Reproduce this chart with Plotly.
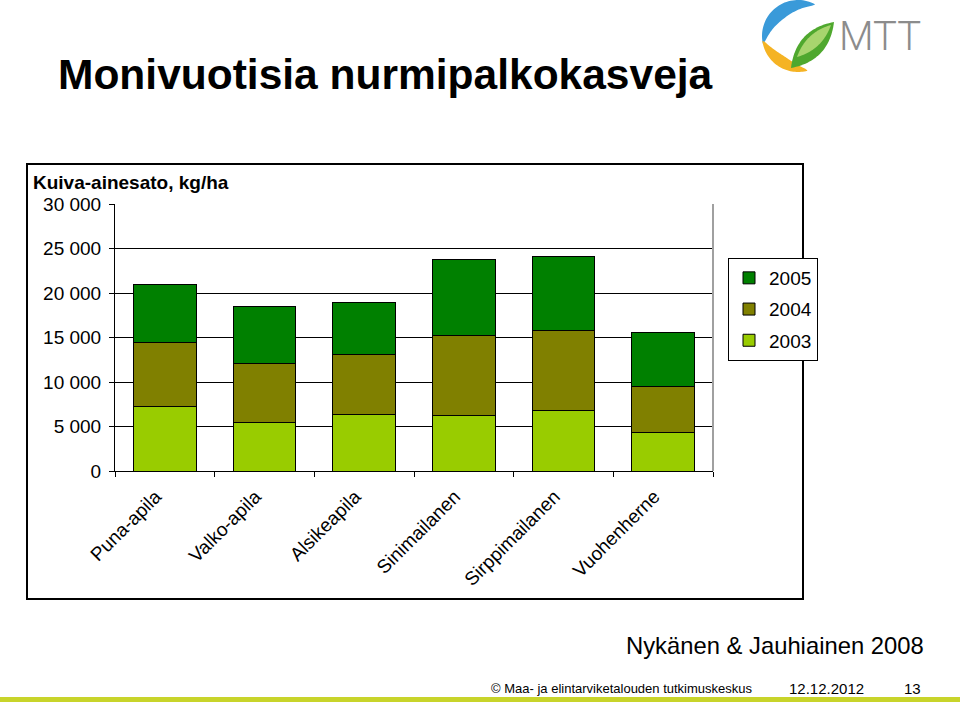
import numpy as np
import plotly.graph_objects as go

W, H = 960, 702

categories = ["Puna-apila", "Valko-apila", "Alsikeapila", "Sinimailanen", "Sirppimailanen", "Vuohenherne"]
y2003 = [7300, 5500, 6350, 6200, 6850, 4350]
y2004 = [7100, 6550, 6700, 9050, 8900, 5200]
y2005 = [6500, 6400, 5900, 8550, 8350, 6050]
series_names = ["2003", "2004", "2005"]
series_colors = ["#99CC00", "#808000", "#008000"]
legend_ranks = [3, 2, 1]
ytick_vals = [0, 5000, 10000, 15000, 20000, 25000, 30000]
ytick_text = ["0", "5 000", "10 000", "15 000", "20 000", "25 000", "30 000"]

FONT = "Arial, Liberation Sans, sans-serif"


def px(x):
    return x / W


def py(y):
    return 1 - y / H


fig = go.Figure()
for name, vals, col, rk in zip(series_names, [y2003, y2004, y2005], series_colors, legend_ranks):
    fig.add_trace(go.Bar(
        x=categories, y=vals, name=name, legendgroup=name, legendrank=rk,
        marker=dict(color=col, line=dict(color="black", width=1)),
    ))

# plot area
x0p, x1p = 115, 713
y0p, y1p = 204, 471

fig.update_layout(
    width=W, height=H,
    margin=dict(l=0, r=0, t=0, b=0, pad=0, autoexpand=False),
    paper_bgcolor="white", plot_bgcolor="white",
    barmode="stack", bargap=0.37,
    font=dict(family=FONT, color="black"),
    showlegend=True,
    legend=dict(
        x=px(728), y=py(258), xanchor="left", yanchor="top",
        bordercolor="black", borderwidth=1, bgcolor="white",
        font=dict(size=19, family=FONT), traceorder="grouped",
        tracegroupgap=3.5, itemwidth=30,
    ),
    xaxis=dict(
        domain=[px(x0p), px(x1p)], showline=True, linecolor="black", linewidth=1,
        ticks="outside", ticklen=5, tickcolor="black", tickson="boundaries",
        tickangle=-45, tickfont=dict(size=19, family=FONT), showgrid=False,
        ticklabelstandoff=6, ticklabelshift=-9, automargin=False,
    ),
    yaxis=dict(
        domain=[py(y1p), py(y0p)], range=[0, 30000], tickvals=ytick_vals, ticktext=ytick_text,
        showline=True, linecolor="black", linewidth=1, ticks="outside", ticklen=5,
        tickcolor="black", showgrid=True, gridcolor="black", gridwidth=1,
        tickfont=dict(size=19, family=FONT), zeroline=False, ticklabelstandoff=4,
        automargin=False,
    ),
)

shapes = []
# outer chart border
shapes.append(dict(type="rect", xref="paper", yref="paper", x0=px(27), x1=px(803), y0=py(599), y1=py(164),
                   line=dict(color="black", width=2), fillcolor="rgba(0,0,0,0)", layer="below"))
# right plot border (gray)
shapes.append(dict(type="line", xref="paper", yref="paper", x0=px(x1p), x1=px(x1p), y0=py(y1p), y1=py(y0p),
                   line=dict(color="#a0a0a0", width=2)))
# footer green strip
shapes.append(dict(type="rect", xref="paper", yref="paper", x0=0, x1=1, y0=0, y1=py(697),
                   line=dict(width=0), fillcolor="#C8D42A"))


# logo
def poly_path(pts):
    return "M " + " L ".join(f"{px(x):.5f},{py(y):.5f}" for x, y in pts) + " Z"


cx, cy = 798, 36


def arc_band(a0, a1, r_out, r_in, n=40):
    th = np.radians(np.linspace(a0, a1, n))
    t = np.linspace(0, 1, n)
    taper = np.sin(np.pi * t) ** 0.7
    rin = r_out - (r_out - r_in) * taper - 0.5
    outer = [(cx + r_out * np.cos(a), cy - r_out * np.sin(a)) for a in th]
    inner = [(cx + r * np.cos(a), cy - r * np.sin(a)) for a, r in zip(th[::-1], rin[::-1])]
    return outer + inner


shapes.append(dict(type="path", xref="paper", yref="paper", path=poly_path(arc_band(62, 192, 36, 23)),
                   fillcolor="#3A9AD9", line=dict(width=0)))
shapes.append(dict(type="path", xref="paper", yref="paper", path=poly_path(arc_band(188, 285, 36, 25)),
                   fillcolor="#F5B324", line=dict(width=0)))


def almond(ax, ay, bx, by, off):
    mx, my = (ax + bx) / 2, (ay + by) / 2
    dx, dy = bx - ax, by - ay
    n = np.hypot(dx, dy)
    nx, ny = -dy / n, dx / n
    c1 = (mx + nx * off, my + ny * off)
    c2 = (mx - nx * off, my - ny * off)
    t = np.linspace(0, 1, 30)
    p1 = [((1 - s) ** 2 * ax + 2 * (1 - s) * s * c1[0] + s ** 2 * bx,
           (1 - s) ** 2 * ay + 2 * (1 - s) * s * c1[1] + s ** 2 * by) for s in t]
    p2 = [((1 - s) ** 2 * bx + 2 * (1 - s) * s * c2[0] + s ** 2 * ax,
           (1 - s) ** 2 * by + 2 * (1 - s) * s * c2[1] + s ** 2 * ay) for s in t]
    return p1 + p2


shapes.append(dict(type="path", xref="paper", yref="paper", path=poly_path(almond(791, 68, 834, 22, 23)),
                   fillcolor="#4FA82E", line=dict(width=0)))
shapes.append(dict(type="path", xref="paper", yref="paper", path=poly_path(almond(797, 57, 831, 25, 12)),
                   fillcolor="#A8D56E", line=dict(width=0)))

fig.update_layout(shapes=shapes)

annotations = [
    dict(text="<b>Monivuotisia nurmipalkokasveja</b>", x=px(56), y=py(75), xanchor="left", yanchor="middle",
         font=dict(size=42.5, family=FONT, color="black")),
    dict(text="<b>Kuiva-ainesato, kg/ha</b>", x=px(31), y=py(182), xanchor="left", yanchor="middle",
         font=dict(size=19, family=FONT, color="black")),
    dict(text="Nykänen & Jauhiainen 2008", x=px(926), y=py(645), xanchor="right", yanchor="middle",
         font=dict(size=23.8, family=FONT, color="black")),
    dict(text="© Maa- ja elintarviketalouden tutkimuskeskus", x=px(489), y=py(688), xanchor="left",
         yanchor="middle", font=dict(size=13, family=FONT, color="black")),
    dict(text="12.12.2012", x=px(787), y=py(688), xanchor="left", yanchor="middle",
         font=dict(size=15, family=FONT, color="black")),
    dict(text="13", x=px(923), y=py(688), xanchor="right", yanchor="middle",
         font=dict(size=15, family=FONT, color="black")),
    dict(text="MTT", x=px(837), y=py(36), xanchor="left", yanchor="middle",
         font=dict(size=40, family="Roboto, DejaVu Sans, sans-serif", color="#8C8C8C", weight=300)),
]
for a in annotations:
    a.update(xref="paper", yref="paper", showarrow=False)
fig.update_layout(annotations=annotations)

fig.write_html("out.html")
